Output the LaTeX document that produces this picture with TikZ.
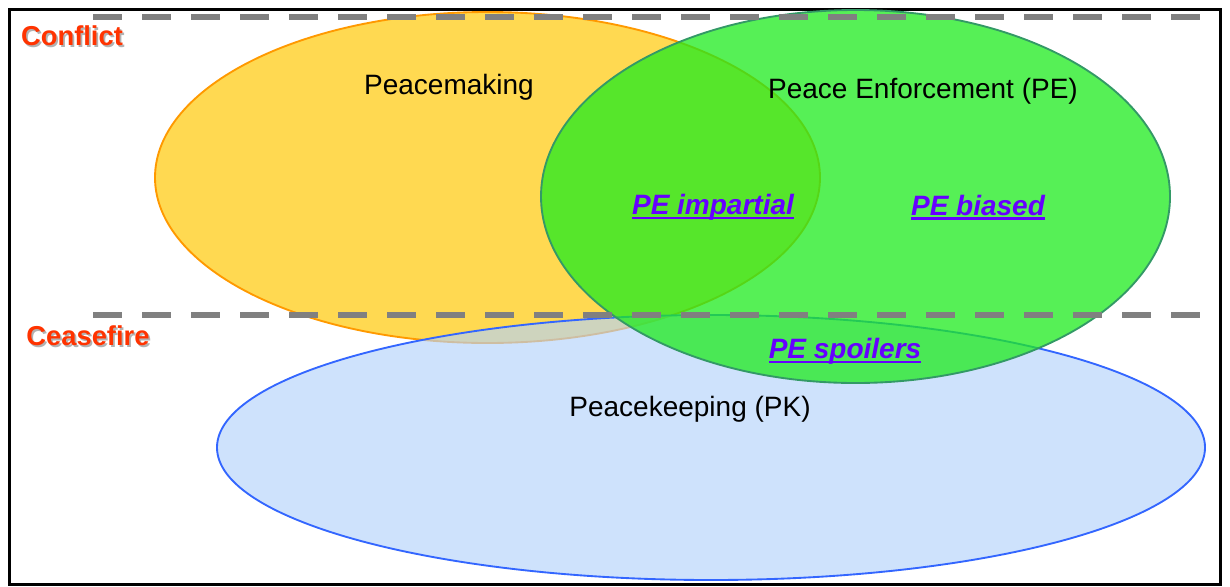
\documentclass[tikz,border=0pt]{standalone}
\usepackage{fontspec}
\setmainfont{Liberation Sans}
\usepackage{xcolor}
\usepackage{tikz}
\definecolor{PMOrange}{RGB}{255, 153, 0}
\definecolor{PMFill}{RGB}{255, 210, 50}
\definecolor{PEGreen}{RGB}{51, 153, 102}
\definecolor{PEFill}{RGB}{30, 235, 30}
\definecolor{PKBlue}{RGB}{51, 102, 255}
\definecolor{PKFill}{RGB}{180, 210, 250}
\definecolor{ZoneRed}{RGB}{255, 51, 0}
\definecolor{LabelViolet}{RGB}{102, 0, 255}
\definecolor{LineGrey}{RGB}{128, 128, 128}

% shadowed zone text and underlined sub-labels
\newcommand{\shadowed}[1]{\rlap{\hspace{1.3pt}\raisebox{-1.3pt}{\textcolor{black!30}{#1}}}#1}
\newcommand{\ulined}[1]{\setbox0\hbox{#1}\rlap{\rule[-3.4pt]{\wd0}{1.9pt}}\box0}

\tikzset{
  heading/.style={font=\fontsize{21}{24}\selectfont},
  zone/.style={font=\bfseries\fontsize{20.5}{24}\selectfont, text=ZoneRed},
  sublabel/.style={font=\bfseries\itshape\fontsize{21}{24}\selectfont, text=LabelViolet},
  zoneline/.style={LineGrey, line width=5.2pt, dash pattern=on 21.75pt off 15pt}
}

\begin{document}
\begin{tikzpicture}[x=0.75pt, y=-0.75pt]
    \useasboundingbox (0,0) rectangle (1230,586);

    % Frame
    \draw[line width=2.3pt] (9.5,9.5) rectangle (1220.5,584.5);

    % Peacemaking
    \draw[PMOrange, line width=1.4pt, fill=PMFill, fill opacity=0.85] (487.5,177.5) ellipse [x radius=332.5, y radius=165.5];

    % Peacekeeping
    \draw[PKBlue, line width=1.4pt, fill=PKFill, fill opacity=0.65] (711,447.5) ellipse [x radius=494, y radius=132.5];

    % Peace enforcement
    \draw[PEGreen, line width=1.4pt, fill=PEFill, fill opacity=0.75] (855.5,196.5) ellipse [x radius=314.5, y radius=186.5];

    % Conflict / ceasefire lines
    \draw[zoneline] (93,17) -- (1203,17);
    \draw[zoneline] (93,315) -- (1203,315);

    % Zones
    \node[zone] (conflict) at (72,37) {\shadowed{Conflict}};
    \node[zone] (ceasefire) at (88,337) {\shadowed{Ceasefire}};

    % Headings
    \node[heading] (peacemaking) at (449,87) {Peacemaking};
    \node[heading] (enforcement) at (923,91) {Peace Enforcement (PE)};
    \node[heading] (peacekeeping) at (690,409) {Peacekeeping (PK)};

    % PE variants
    \node[sublabel] (impartial) at (713,207.5) {\ulined{PE impartial}};
    \node[sublabel] (biased) at (978,207.5) {\ulined{PE biased}};
    \node[sublabel] (spoilers) at (845,351.5) {\ulined{PE spoilers}};
\end{tikzpicture}
\end{document}
